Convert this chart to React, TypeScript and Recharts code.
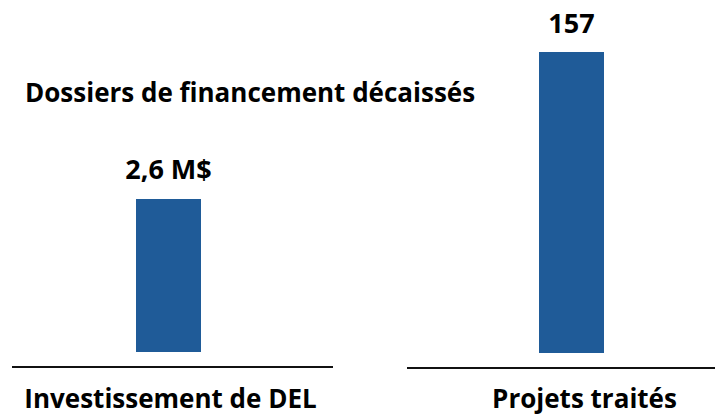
import React from 'react';
import { BarChart, Bar, XAxis, YAxis, LabelList } from 'recharts';

const leftCategories = ['Investissement de DEL'];
const leftValues = [2.6];
const leftLabels = ['2,6 M$'];

const rightCategories = ['Projets traités'];
const rightValues = [157];
const rightLabels = ['157'];

const chartTitle = 'Dossiers de financement décaissés';

const BAR_COLOR = '#1f5b98';
const FONT = '"Open Sans", Lato, sans-serif';

const leftData = leftCategories.map((name, i) => ({ name, value: leftValues[i], label: leftLabels[i] }));
const rightData = rightCategories.map((name, i) => ({ name, value: rightValues[i], label: rightLabels[i] }));

const makeTick = (shift: number, dy: number) => (props: any) => {
    const { x, y, payload } = props;
    return (
        <text
            x={x + shift}
            y={y}
            dy={dy}
            textAnchor="middle"
            fill="#000"
            fontFamily={FONT}
            fontWeight="bold"
            fontSize={26}
        >
            {payload.value}
        </text>
    );
};

const valueLabel = (labels: string[], gap: number) => (props: any) => {
    const { x, y, width, index } = props;
    return (
        <text
            x={x + width / 2}
            y={y - gap}
            textAnchor="middle"
            fill="#000"
            fontFamily={FONT}
            fontWeight="bold"
            fontSize={27}
        >
            {labels[index]}
        </text>
    );
};

export default function App() {
    return (
        <div style={{ position: 'absolute', top: 0, left: 0, width: 715, height: 415, background: '#fff', overflow: 'hidden' }}>
            {/* Title */}
            <div
                style={{
                    position: 'absolute',
                    left: 25,
                    top: 74,
                    fontFamily: FONT,
                    fontWeight: 'bold',
                    fontSize: 26,
                    lineHeight: 'normal',
                    color: '#000',
                    whiteSpace: 'nowrap'
                }}
            >
                {chartTitle}
            </div>

            {/* Left panel */}
            <div style={{ position: 'absolute', left: 0, top: 0 }}>
                <BarChart width={345} height={415} data={leftData} margin={{ top: 40, right: 12, left: 12, bottom: 0 }}>
                    <XAxis
                        dataKey="name"
                        height={48}
                        tickLine={false}
                        tickSize={0}
                        tickMargin={0}
                        axisLine={{ stroke: '#111', strokeWidth: 2 }}
                        padding={{ left: 0, right: 8 }}
                        tick={makeTick(2, 41)}
                    />
                    <YAxis hide domain={[-0.255, 5.3]} />
                    <Bar dataKey="value" fill={BAR_COLOR} barSize={65} isAnimationActive={false}>
                        <LabelList dataKey="label" content={valueLabel(leftLabels, 20)} />
                    </Bar>
                </BarChart>
            </div>

            {/* Right panel */}
            <div style={{ position: 'absolute', left: 395, top: 0 }}>
                <BarChart width={320} height={415} data={rightData} margin={{ top: 40, right: 0, left: 12, bottom: 0 }}>
                    <XAxis
                        dataKey="name"
                        height={47}
                        tickLine={false}
                        tickSize={0}
                        tickMargin={0}
                        axisLine={{ stroke: '#111', strokeWidth: 2 }}
                        padding={{ left: 21, right: 0 }}
                        tick={makeTick(13, 40)}
                    />
                    <YAxis hide domain={[-7.8, 163.3]} />
                    <Bar dataKey="value" fill={BAR_COLOR} barSize={65} isAnimationActive={false}>
                        <LabelList dataKey="label" content={valueLabel(rightLabels, 19)} />
                    </Bar>
                </BarChart>
            </div>
        </div>
    );
}
